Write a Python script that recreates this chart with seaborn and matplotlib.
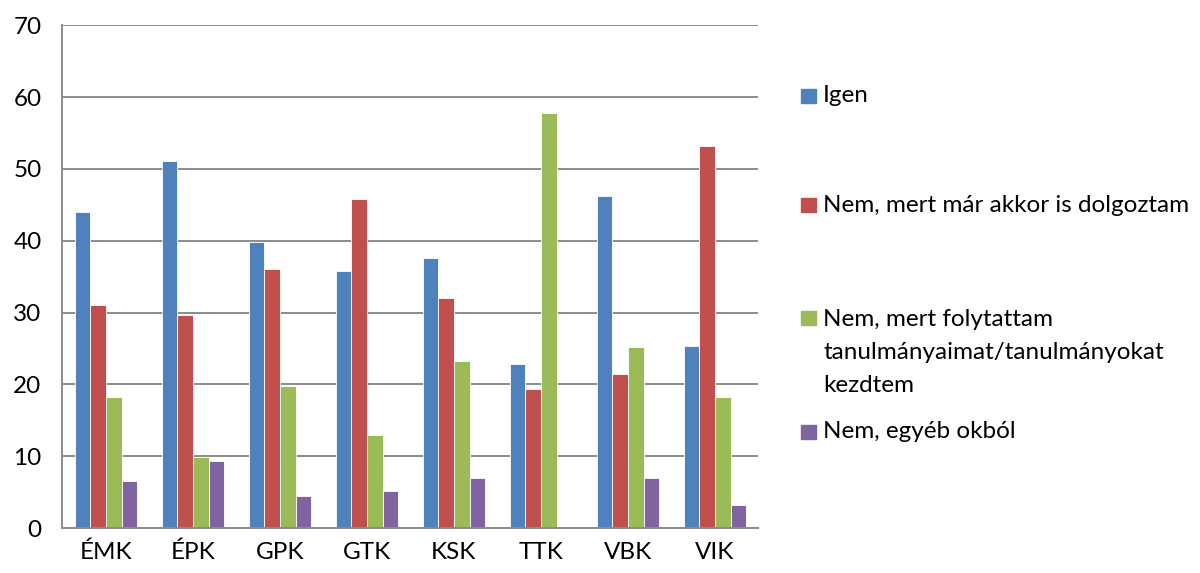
import pandas as pd
import seaborn as sns
import matplotlib.pyplot as plt
from matplotlib.patches import Rectangle

# Adatok (leolvasva az ábráról)
karok = ["ÉMK", "ÉPK", "GPK", "GTK", "KSK", "TTK", "VBK", "VIK"]
igen = [44.0, 51.1, 39.8, 35.8, 37.6, 22.8, 46.2, 25.3]
nem_dolgoztam = [31.1, 29.7, 36.0, 45.8, 32.0, 19.4, 21.5, 53.2]
nem_tanulmany = [18.3, 9.9, 19.8, 13.0, 23.3, 57.8, 25.2, 18.3]
nem_egyeb = [6.6, 9.3, 4.4, 5.2, 6.9, 0.0, 6.9, 3.2]

sorozatok = [
    "Igen",
    "Nem, mert már akkor is dolgoztam",
    "Nem, mert folytattam\ntanulmányaimat/tanulmányokat\nkezdtem",
    "Nem, egyéb okból",
]
szinek = ["#4F81BD", "#C0504D", "#9BBB59", "#8064A2"]

rows = []
for s, vals in zip(sorozatok, [igen, nem_dolgoztam, nem_tanulmany, nem_egyeb]):
    for k, v in zip(karok, vals):
        rows.append({"kar": k, "valasz": s, "ertek": v})
df = pd.DataFrame(rows)

sns.set_style("white")
plt.rcParams["font.family"] = ["Lato", "DejaVu Sans"]

fig = plt.figure(figsize=(12, 5.73), dpi=100)
ax = fig.add_axes([0.052, 0.0785, 0.580, 0.8775])

sns.barplot(data=df, x="kar", y="ertek", hue="valasz", palette=szinek,
            saturation=1, width=0.72, edgecolor="white", linewidth=0.6,
            ax=ax, legend=False)

ax.set_ylim(0, 70)
ax.set_yticks(range(0, 71, 10))
ax.yaxis.grid(True, color="#8c8c8c", linewidth=1.4)
ax.set_axisbelow(True)
ax.set_xlabel("")
ax.set_ylabel("")
for s in ["top", "right"]:
    ax.spines[s].set_visible(False)
for s in ["left", "bottom"]:
    ax.spines[s].set_color("#8c8c8c")
    ax.spines[s].set_linewidth(1.4)
ax.tick_params(axis="y", length=0, pad=15, labelsize=17.5, colors="black")
ax.tick_params(axis="x", length=0, pad=10, labelsize=17.5, colors="black")

# Jelmagyarázat (Excel-szerű elrendezés)
leg_y = [96, 205, 318, 432]
for s, c, y in zip(sorozatok, szinek, leg_y):
    yf = 1 - y / 573
    fig.patches.append(Rectangle((801 / 1200, yf - 7 / 573), 15 / 1200, 14 / 573,
                                 transform=fig.transFigure, color=c))
    fig.text(823 / 1200, yf, s, fontsize=17.5, va="center" if "\n" not in s else "top",
             linespacing=1.7, color="black")
# többsoros elem igazítása
fig.texts[2].set_position((823 / 1200, 1 - 309 / 573))

plt.savefig("out.png", dpi=100)
plt.close()
